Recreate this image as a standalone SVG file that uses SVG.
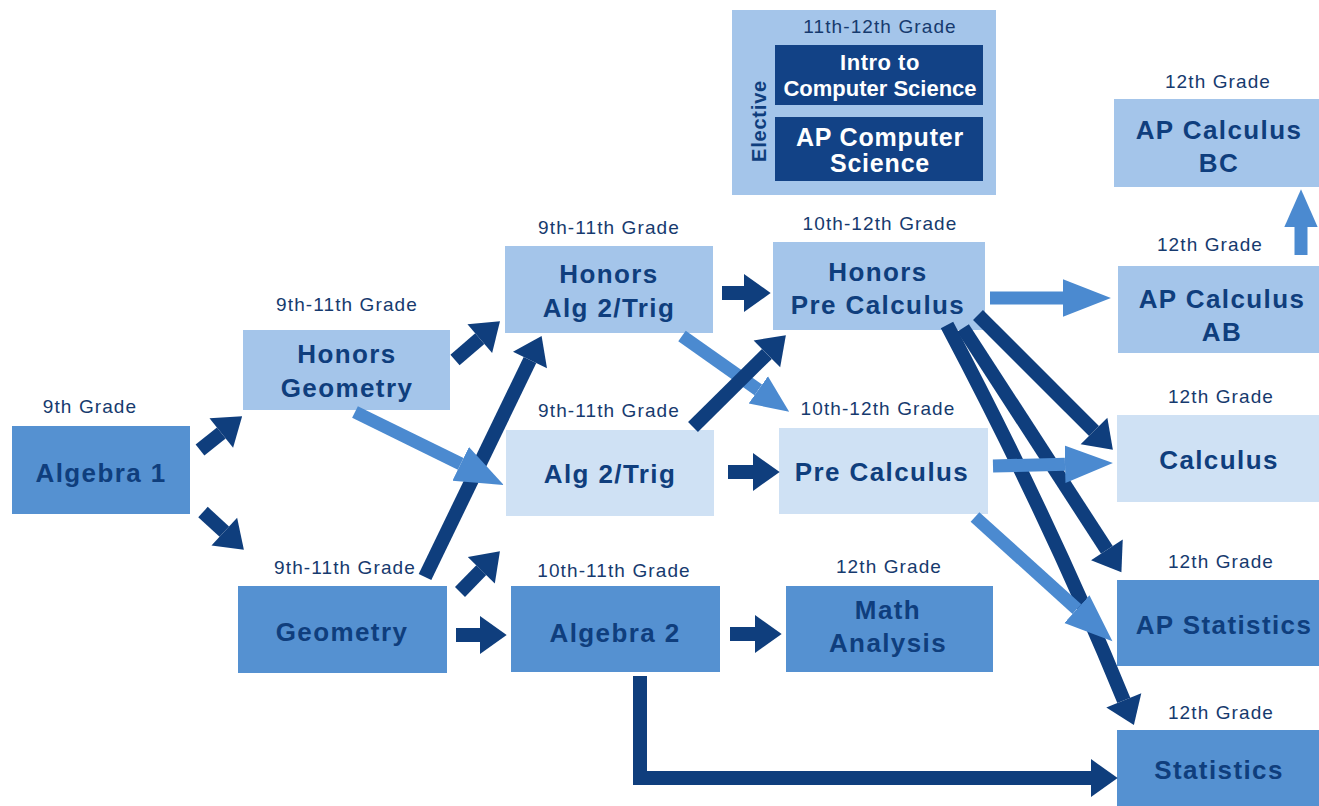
<svg xmlns="http://www.w3.org/2000/svg" width="1319" height="806" viewBox="0 0 1319 806">
<defs>
<style>
.mid{fill:#5591d1}
.lt{fill:#a4c5ea}
.xl{fill:#cfe1f4}
.cs{fill:#124286}
.t{font-family:"Liberation Sans",Arial,sans-serif;font-weight:bold;font-size:26px;fill:#0f3e7d;text-anchor:middle;letter-spacing:1.4px}
.w{font-family:"Liberation Sans",Arial,sans-serif;font-weight:bold;font-size:22px;fill:#ffffff;text-anchor:middle}
.g{font-family:"Liberation Sans",Arial,sans-serif;font-size:19px;fill:#163a6e;text-anchor:middle;letter-spacing:1.1px}
.da{stroke:#0f3e7d;stroke-width:14;fill:none}
.ma{stroke:#4b8ad0;stroke-width:13;fill:none}
</style>
<marker id="dh" markerUnits="userSpaceOnUse" markerWidth="30" markerHeight="40" viewBox="0 -18 26 36" refX="0" refY="0" orient="auto"><path d="M0,-17 L24,0 L0,17 z" fill="#0f3e7d"/></marker>
<marker id="mh" markerUnits="userSpaceOnUse" markerWidth="50" markerHeight="44" viewBox="0 -20 48 40" refX="0" refY="0" orient="auto"><path d="M0,-18 L46,0 L0,18 z" fill="#4b8ad0"/></marker>
<marker id="mhs" markerUnits="userSpaceOnUse" markerWidth="40" markerHeight="36" viewBox="0 -16 36 32" refX="0" refY="0" orient="auto"><path d="M0,-15 L34,0 L0,15 z" fill="#4b8ad0"/></marker>
</defs>
<rect width="1319" height="806" fill="#ffffff"/>

<g id="elective">
<rect x="732" y="10" width="264" height="185" class="lt"/>
<text class="g" x="880" y="33">11th-12th Grade</text>
<text class="t" x="0" y="0" transform="translate(766,121) rotate(-90)" style="font-size:20px;letter-spacing:0.8px">Elective</text>
</g>
<g id="intro-cs">
<rect x="775" y="45" width="208" height="60" class="cs"/>
<text class="w" x="880" y="70" style="letter-spacing:0.5px">Intro to</text>
<text class="w" x="880" y="96">Computer Science</text>
</g>
<g id="ap-cs">
<rect x="775" y="117" width="208" height="64" class="cs"/>
<text class="w" x="880" y="146" style="font-size:25px;letter-spacing:0.8px">AP Computer</text>
<text class="w" x="880" y="172" style="font-size:25px;letter-spacing:0.8px">Science</text>
</g>

<g id="algebra1">
<rect x="12" y="426" width="178" height="88" class="mid"/>
<text class="g" x="90" y="413">9th Grade</text>
<text class="t" x="101" y="482">Algebra 1</text>
</g>
<g id="honors-geometry">
<rect x="243" y="330" width="207" height="80" class="lt"/>
<text class="g" x="347" y="311">9th-11th Grade</text>
<text class="t" x="347" y="363">Honors</text>
<text class="t" x="347" y="397">Geometry</text>
</g>
<g id="geometry">
<rect x="238" y="586" width="209" height="87" class="mid"/>
<text class="g" x="345" y="574">9th-11th Grade</text>
<text class="t" x="342" y="641">Geometry</text>
</g>
<g id="honors-alg2trig">
<rect x="505" y="246" width="208" height="87" class="lt"/>
<text class="g" x="609" y="234">9th-11th Grade</text>
<text class="t" x="609" y="283">Honors</text>
<text class="t" x="609" y="317">Alg 2/Trig</text>
</g>
<g id="alg2trig">
<rect x="506" y="430" width="208" height="86" class="xl"/>
<text class="g" x="609" y="417">9th-11th Grade</text>
<text class="t" x="610" y="483">Alg 2/Trig</text>
</g>
<g id="algebra2">
<rect x="511" y="586" width="209" height="86" class="mid"/>
<text class="g" x="614" y="577">10th-11th Grade</text>
<text class="t" x="615" y="642">Algebra 2</text>
</g>
<g id="honors-precalc">
<rect x="773" y="242" width="212" height="88" class="lt"/>
<text class="g" x="880" y="230">10th-12th Grade</text>
<text class="t" x="878" y="281">Honors</text>
<text class="t" x="878" y="314">Pre Calculus</text>
</g>
<g id="precalc">
<rect x="779" y="428" width="209" height="86" class="xl"/>
<text class="g" x="878" y="415">10th-12th Grade</text>
<text class="t" x="882" y="481">Pre Calculus</text>
</g>
<g id="math-analysis">
<rect x="786" y="586" width="207" height="86" class="mid"/>
<text class="g" x="889" y="573">12th Grade</text>
<text class="t" x="888" y="619">Math</text>
<text class="t" x="888" y="652">Analysis</text>
</g>
<g id="ap-calc-bc">
<rect x="1114" y="99" width="205" height="88" class="lt"/>
<text class="g" x="1218" y="88">12th Grade</text>
<text class="t" x="1219" y="139">AP Calculus</text>
<text class="t" x="1219" y="172">BC</text>
</g>
<g id="ap-calc-ab">
<rect x="1118" y="266" width="201" height="87" class="lt"/>
<text class="g" x="1210" y="251">12th Grade</text>
<text class="t" x="1222" y="308">AP Calculus</text>
<text class="t" x="1222" y="341">AB</text>
</g>
<g id="calculus">
<rect x="1117" y="415" width="202" height="87" class="xl"/>
<text class="g" x="1221" y="403">12th Grade</text>
<text class="t" x="1219" y="469">Calculus</text>
</g>
<g id="ap-statistics">
<rect x="1117" y="580" width="202" height="86" class="mid"/>
<text class="g" x="1221" y="568">12th Grade</text>
<text class="t" x="1224" y="634">AP Statistics</text>
</g>
<g id="statistics">
<rect x="1117" y="730" width="202" height="76" class="mid"/>
<text class="g" x="1221" y="719">12th Grade</text>
<text class="t" x="1219" y="779">Statistics</text>
</g>

<g id="connectors">
<line class="ma" x1="682" y1="336" x2="758.3" y2="389.9" marker-end="url(#mhs)"/>

<line class="da" x1="200" y1="450" x2="221.3" y2="433" marker-end="url(#dh)"/>
<line class="da" x1="203" y1="512" x2="224.3" y2="531.7" marker-end="url(#dh)"/>
<line class="da" x1="455" y1="360" x2="479.8" y2="338.6" marker-end="url(#dh)"/>
<line class="da" x1="425" y1="577" x2="530" y2="360" marker-end="url(#dh)"/>
<line class="da" x1="460" y1="592" x2="481.3" y2="570.2" marker-end="url(#dh)"/>
<line class="da" x1="456" y1="635" x2="480" y2="635" marker-end="url(#dh)"/>
<line class="da" x1="730" y1="634" x2="755" y2="634" marker-end="url(#dh)"/>
<line class="da" x1="722" y1="293" x2="744" y2="293" marker-end="url(#dh)"/>
<line class="da" x1="728" y1="472" x2="753" y2="472" marker-end="url(#dh)"/>
<line class="da" x1="693" y1="427" x2="766.9" y2="353.9" marker-end="url(#dh)"/>
<line class="da" x1="978" y1="315" x2="1094" y2="431" marker-end="url(#dh)"/>
<line class="da" x1="963" y1="328" x2="1106.9" y2="549.9" marker-end="url(#dh)"/>
<path class="da" d="M947,325 Q1050,520 1123.8,700.3" marker-end="url(#dh)"/>
<polyline class="da" points="640,676 640,778 1091,778" marker-end="url(#dh)"/>

<line class="ma" x1="355" y1="412" x2="460.7" y2="463.8" marker-end="url(#mh)"/>
<line class="ma" x1="990" y1="298" x2="1063" y2="298" marker-end="url(#mh)"/>
<line class="ma" x1="993" y1="466" x2="1065" y2="464.2" marker-end="url(#mh)"/>
<line class="ma" x1="975" y1="517" x2="1076.9" y2="609.1" marker-end="url(#mh)"/>
<line class="ma" x1="1301" y1="255" x2="1301" y2="227" marker-end="url(#mhs)"/>
</g>
</svg>
